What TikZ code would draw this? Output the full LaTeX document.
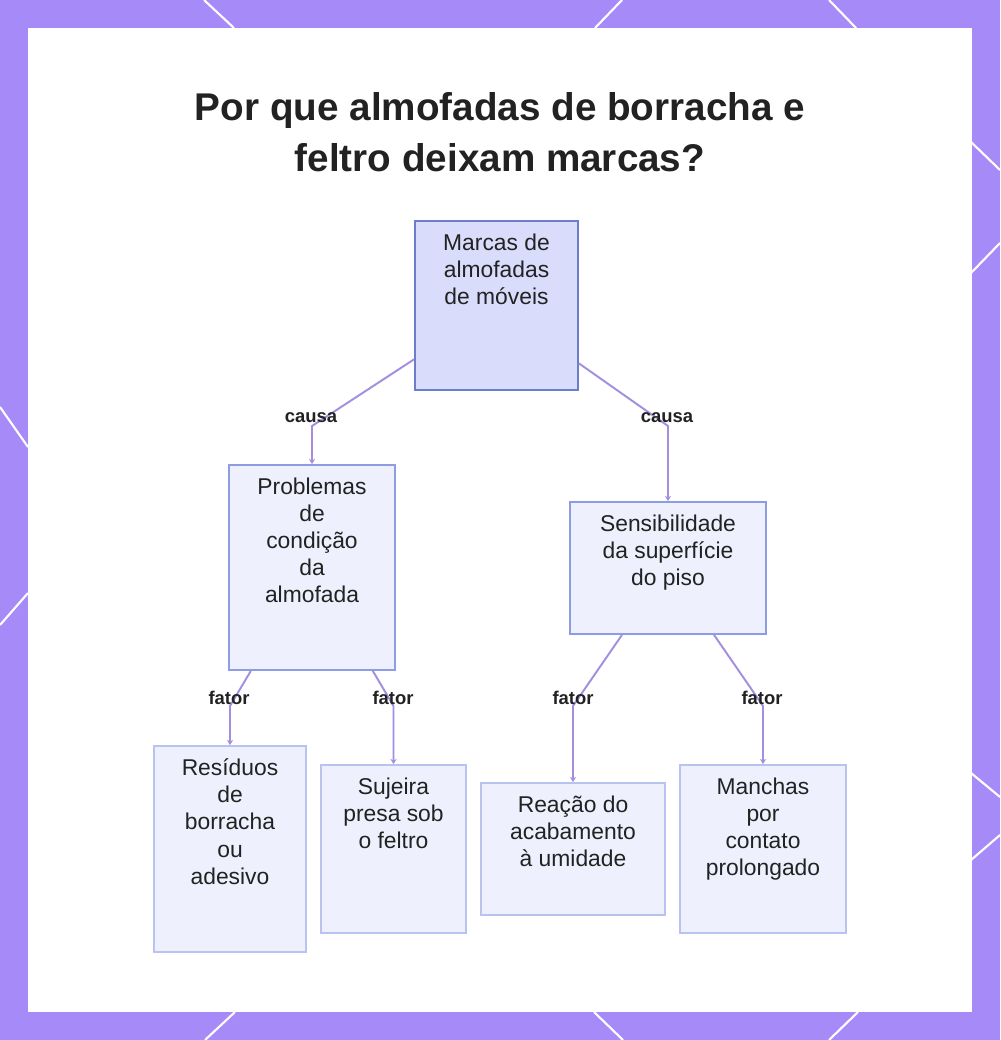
\documentclass[tikz,border=0pt]{standalone}
\usepackage{fontspec}
\setmainfont{Liberation Sans}
\usepackage{xcolor}
\usepackage{tikz}
\usetikzlibrary{positioning,arrows.meta}

\definecolor{framebg}{RGB}{166,139,248}
\definecolor{rootfill}{RGB}{217,221,251}
\definecolor{rootline}{RGB}{108,125,201}
\definecolor{midline}{RGB}{142,157,227}
\definecolor{leafline}{RGB}{184,195,240}
\definecolor{boxfill}{RGB}{238,241,253}
\definecolor{edgeclr}{RGB}{164,142,224}
\definecolor{inkclr}{RGB}{34,34,34}

\begin{document}
\begin{tikzpicture}[
  x=0.02cm, y=-0.02cm,
  box/.style={rectangle, draw, fill=boxfill, line width=1pt, inner sep=0pt},
  rootbox/.style={box, fill=rootfill, draw=rootline},
  midbox/.style={box, draw=midline},
  leafbox/.style={box, draw=leafline},
  boxtext/.style={anchor=north, yshift=-7.7pt, inner sep=0pt, align=center,
    text=inkclr, font=\fontsize{13}{15.4}\selectfont},
  edge/.style={-{Stealth[length=3pt,width=3.5pt]}, line width=1.1pt, draw=edgeclr},
  edgelabel/.style={inner sep=0pt, text=inkclr, font=\fontsize{10.5}{12}\selectfont\bfseries},
]
  % frame
  \fill[framebg] (0,0) rectangle (1000,1040);
  \fill[white] (28,28) rectangle (972,1012);
  \useasboundingbox (0,0) rectangle (1000,1040);
  \begin{scope}[white, line width=1.2pt]
    \draw (204,0) -- (234,28);
    \draw (622,0) -- (595,28);
    \draw (829,0) -- (856,28);
    \draw (971,142) -- (1000,170);
    \draw (971,273) -- (1000,243);
    \draw (971,773) -- (1000,797);
    \draw (971,860) -- (1000,835);
    \draw (0,407) -- (28,447);
    \draw (28,593) -- (0,625);
    \draw (235,1012) -- (205,1040);
    \draw (594,1012) -- (623,1040);
    \draw (858,1012) -- (829,1040);
  \end{scope}

  % title
  \node[text=inkclr, align=center, font=\fontsize{22}{29}\selectfont\bfseries] (title) at (500,132)
    {Por que almofadas de borracha e\\feltro deixam marcas?};

  % boxes
  \node[rootbox, minimum width=3.26cm, minimum height=3.38cm,
    label={[boxtext]north:Marcas de\\almofadas\\de móveis}] (root) at (496.5,305.5) {};
  \node[midbox, minimum width=3.32cm, minimum height=4.10cm,
    label={[boxtext]north:Problemas\\de\\condição\\da\\almofada}] (pad) at (312,567.5) {};
  \node[midbox, minimum width=3.92cm, minimum height=2.64cm,
    label={[boxtext]north:Sensibilidade\\da superfície\\do piso}] (floor) at (668,568) {};
  \node[leafbox, minimum width=3.04cm, minimum height=4.12cm,
    label={[boxtext]north:Resíduos\\de\\borracha\\ou\\adesivo}] (residue) at (230,849) {};
  \node[leafbox, minimum width=2.90cm, minimum height=3.36cm,
    label={[boxtext]north:Sujeira\\presa sob\\o feltro}] (dirt) at (393.5,849) {};
  \node[leafbox, minimum width=3.68cm, minimum height=2.64cm,
    label={[boxtext]north:Reação do\\acabamento\\à umidade}] (finish) at (573,849) {};
  \node[leafbox, minimum width=3.32cm, minimum height=3.36cm,
    label={[boxtext]north:Manchas\\por\\contato\\prolongado}] (stain) at (763,849) {};

  % bend points
  \coordinate (kPad) at (312,426);
  \coordinate (kFloor) at (668,426);
  \coordinate (kResidue) at (230,706);
  \coordinate (kDirt) at (393.5,706);
  \coordinate (kFinish) at (573,706);
  \coordinate (kStain) at (763,706);

  % connectors
  \draw[edge] (root) -- (kPad) -- (pad);
  \draw[edge] (root) -- (kFloor) -- (floor);
  \draw[edge] (pad) -- (kResidue) -- (residue);
  \draw[edge] (pad) -- (kDirt) -- (dirt);
  \draw[edge] (floor) -- (kFinish) -- (finish);
  \draw[edge] (floor) -- (kStain) -- (stain);

  % labels
  \node[edgelabel] (lPad) at (311,418) {causa};
  \node[edgelabel] (lFloor) at (667,418) {causa};
  \node[edgelabel] (lResidue) at (229,698) {fator};
  \node[edgelabel] (lDirt) at (393,698) {fator};
  \node[edgelabel] (lFinish) at (573,698) {fator};
  \node[edgelabel] (lStain) at (762,698) {fator};
\end{tikzpicture}
\end{document}
